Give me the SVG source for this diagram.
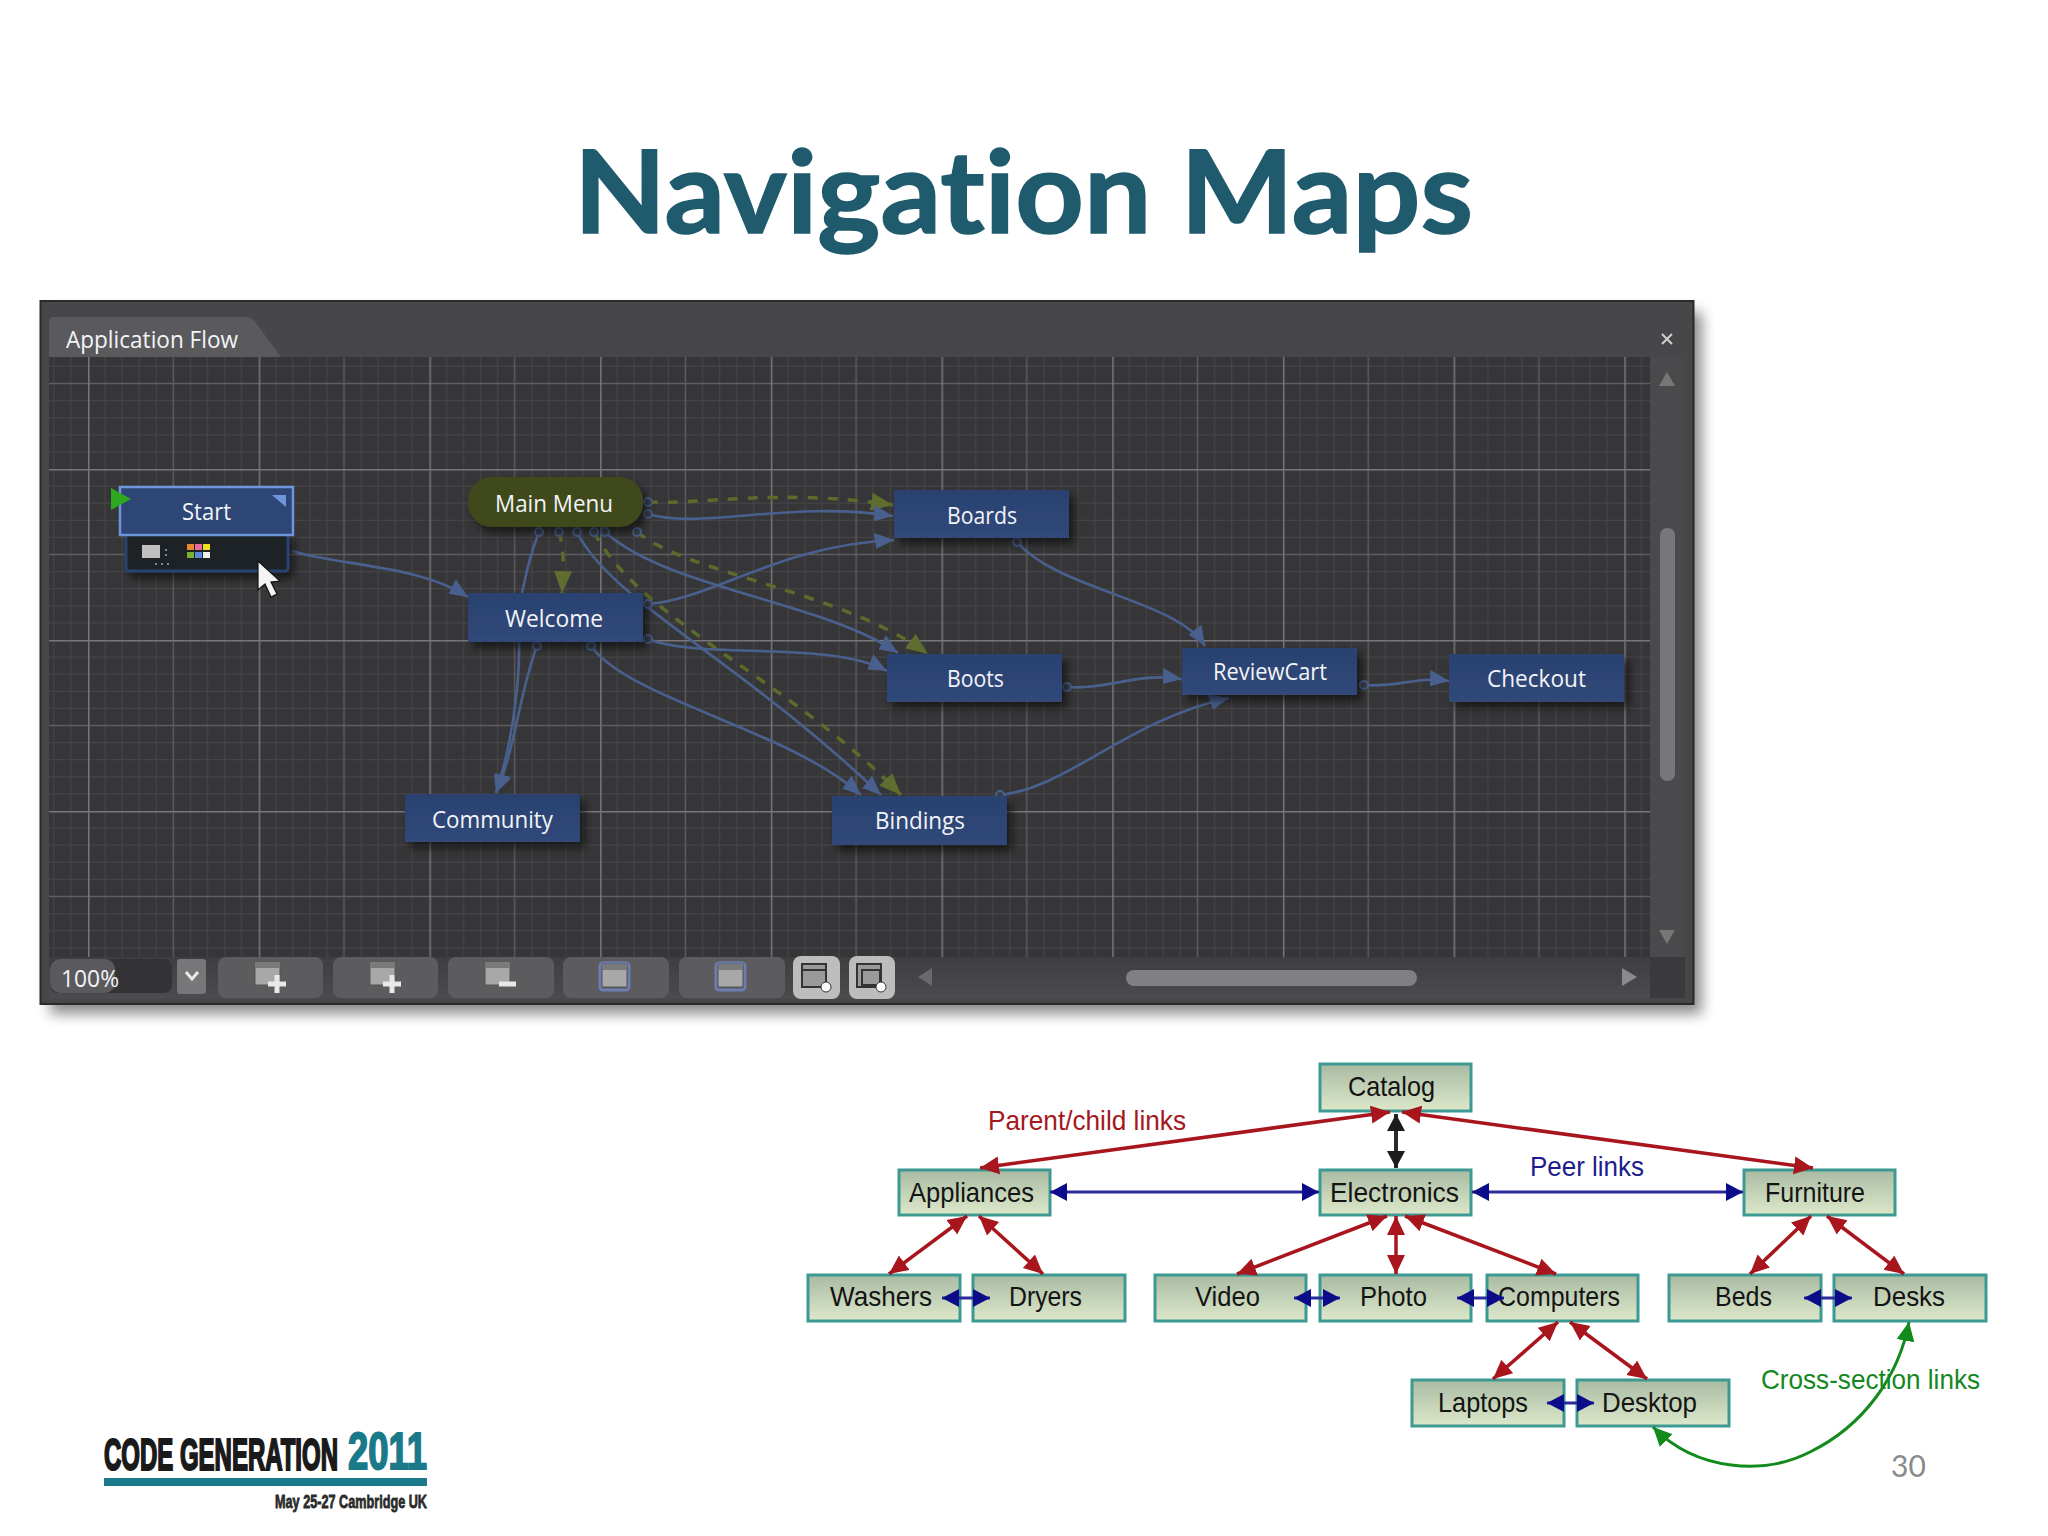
<svg xmlns="http://www.w3.org/2000/svg" width="2048" height="1536" viewBox="0 0 2048 1536">
<style>
.ui{font-family:"Open Sans","Noto Sans","Liberation Sans",sans-serif;fill:#f2f4f8;font-size:24px}
.nd{fill:url(#nav);filter:url(#ns)}
.ar{font-family:"Liberation Sans",Arial,sans-serif;font-size:28px;fill:#141414}
.cat{fill:url(#cg);stroke:#3c9a92;stroke-width:3}
.b{fill:none;stroke:#49618f;stroke-width:2.6;marker-end:url(#mb)}
.o{fill:none;stroke:#5c6a2c;stroke-width:3.5;stroke-dasharray:10 10;marker-end:url(#mo)}
.p{fill:#3a3f48;stroke:#49618f;stroke-width:2}
.r{stroke:#a8151d;stroke-width:3.5;fill:none;marker-start:url(#mr);marker-end:url(#mr)}
.k{stroke:#2a2a2a;stroke-width:4;fill:none;marker-start:url(#mk);marker-end:url(#mk)}
.u{stroke:#2a2a9c;stroke-width:3;fill:none;marker-start:url(#mu);marker-end:url(#mu)}
.btn{fill:#5c5c5e}
.btl{fill:#bdbdbd}
.logo{font-family:"Liberation Sans Narrow","Liberation Sans",sans-serif;font-weight:700}
</style>
<defs>
<linearGradient id="nav" x1="0" y1="0" x2="0" y2="1"><stop offset="0" stop-color="#2a4270"/><stop offset="1" stop-color="#30487a"/></linearGradient>
<linearGradient id="cg" x1="0" y1="0" x2="0" y2="1"><stop offset="0" stop-color="#a9bba3"/><stop offset="1" stop-color="#dde8ca"/></linearGradient>
<linearGradient id="tb" x1="0" y1="0" x2="0" y2="1"><stop offset="0" stop-color="#3e3e40"/><stop offset="1" stop-color="#4c4c4e"/></linearGradient>
<filter id="ns" x="-15%" y="-20%" width="135%" height="160%"><feDropShadow dx="5" dy="6" stdDeviation="4" flood-color="#000" flood-opacity=".55"/></filter>
<filter id="ws" x="-3%" y="-3%" width="106%" height="108%"><feGaussianBlur stdDeviation="7"/></filter>
<filter id="soft" x="-2%" y="-2%" width="104%" height="104%"><feGaussianBlur stdDeviation=".7"/></filter>
<pattern id="grid" patternUnits="userSpaceOnUse" x="88" y="298" width="170.7" height="171">
<rect width="170.7" height="171" fill="#363638"/>
<path d="M17.1 0V171M34.1 0V171M51.2 0V171M68.3 0V171M102.4 0V171M119.5 0V171M136.6 0V171M153.6 0V171M0 17.1H170.7M0 34.2H170.7M0 51.3H170.7M0 68.4H170.7M0 102.6H170.7M0 119.7H170.7M0 136.8H170.7M0 153.9H170.7" stroke="#444446" stroke-width="1.2" fill="none"/>
<path d="M85.3 0V171M0 85.5H170.7" stroke="#5e5e60" stroke-width="1.4" fill="none"/>
<path d="M0.7 0V171M0 .8H170.7" stroke="#77777a" stroke-width="1.6" fill="none"/>
</pattern>
<marker id="mb" markerUnits="userSpaceOnUse" markerWidth="22" markerHeight="18" refX="20" refY="9" orient="auto"><path d="M0 1L20 9L2 17Z" fill="#49618f"/></marker>
<marker id="mo" markerUnits="userSpaceOnUse" markerWidth="24" markerHeight="20" refX="22" refY="10" orient="auto"><path d="M0 1L22 10L0 19Z" fill="#5f6e2e"/></marker>
<marker id="mr" markerUnits="userSpaceOnUse" markerWidth="20" markerHeight="20" refX="19" refY="10" orient="auto-start-reverse"><path d="M0 1L19 10L0 19Z" fill="#a8151d"/></marker>
<marker id="mk" markerUnits="userSpaceOnUse" markerWidth="18" markerHeight="18" refX="17" refY="9" orient="auto-start-reverse"><path d="M0 0L17 9L0 18Z" fill="#1c1c1c"/></marker>
<marker id="mu" markerUnits="userSpaceOnUse" markerWidth="18" markerHeight="20" refX="17" refY="10" orient="auto-start-reverse"><path d="M0 1L17 10L0 19Z" fill="#0c0c8a"/></marker>
<marker id="mg" markerUnits="userSpaceOnUse" markerWidth="20" markerHeight="20" refX="19" refY="10" orient="auto-start-reverse"><path d="M0 1L19 10L0 19Z" fill="#128a1c"/></marker>
<g id="ic"><rect x="-12" y="-12" width="25" height="23" fill="#a8a8a8" stroke="#555" stroke-width="1"/><rect x="-12" y="-12" width="25" height="6" fill="#7a7a7a"/></g>
<g id="plus"><path d="M-9 0H9M0 -9V9" stroke="#e8e8e8" stroke-width="5"/></g>
</defs>
<rect width="2048" height="1536" fill="#fff"/>
<text x="574" y="233" font-family="Lato,'Open Sans',sans-serif" font-weight="700" font-size="114" fill="#1f5a6d" stroke="#1f5a6d" stroke-width="1.5" style="font-variant-ligatures:none" textLength="899" lengthAdjust="spacingAndGlyphs">Navigation Maps</text>

<g id="window">
<rect x="50" y="312" width="1652" height="702" fill="#000" opacity=".45" filter="url(#ws)"/>
<rect x="40.500" y="301" width="1653" height="703" fill="#47474a" stroke="#2a2a2a" stroke-width="2"/>
<path d="M49 357V322Q49 317 54 317H245Q252 317 256 323L281 357Z" fill="#5a5a5d"/>
<text class="ui" x="66" y="348" font-size="23" textLength="172" lengthAdjust="spacingAndGlyphs">Application Flow</text>
<path d="M1662 334L1672 344M1672 334L1662 344" stroke="#d0d0d0" stroke-width="2"/>
<rect x="49" y="357" width="1601" height="600" fill="url(#grid)"/>
<rect x="1650" y="357" width="34" height="600" fill="#4a4a4c"/>
<rect x="1660" y="528" width="15" height="253" rx="7" fill="#77777a"/>
<path d="M1667 372L1675 386H1659Z" fill="#777"/>
<path d="M1667 944L1659 930H1675Z" fill="#777"/>
<g transform="translate(0,-3)">
<rect x="49" y="960" width="1601" height="42" fill="url(#tb)"/>
<rect x="1650" y="960" width="35" height="41" fill="#3a3a3c"/>
<rect x="50" y="962" width="122" height="34" rx="8" fill="#333335"/>
<rect x="50" y="962" width="65" height="34" rx="10" fill="#5a5a5c"/>
<text class="ui" x="61" y="990" font-size="22" textLength="58" lengthAdjust="spacingAndGlyphs">100%</text>
<rect x="177" y="962" width="29" height="35" rx="3" fill="#77777a"/>
<path d="M186 975L192 982L198 975" fill="none" stroke="#e8e8e8" stroke-width="3"/>
<rect class="btn" x="218" y="960" width="105" height="41" rx="8"/>
<rect class="btn" x="333" y="960" width="105" height="41" rx="8"/>
<rect class="btn" x="448" y="960" width="106" height="41" rx="8"/>
<rect class="btn" x="563" y="960" width="106" height="41" rx="8"/>
<rect class="btn" x="679" y="960" width="106" height="41" rx="8"/>
<rect class="btl" x="793" y="959" width="47" height="43" rx="8"/>
<rect class="btl" x="849" y="959" width="46" height="43" rx="8"/>
<use href="#ic" x="267" y="977"/><use href="#plus" x="277" y="987"/>
<use href="#ic" x="382" y="977"/><use href="#plus" x="392" y="987"/>
<use href="#ic" x="497" y="977"/><path d="M499 987H516" stroke="#e8e8e8" stroke-width="5"/>
<rect x="600" y="966" width="29" height="27" rx="3" fill="none" stroke="#6c7cb4" stroke-width="3"/><use href="#ic" x="614" y="979"/>
<rect x="716" y="966" width="29" height="27" rx="3" fill="none" stroke="#6c7cb4" stroke-width="3"/><use href="#ic" x="730" y="979"/>
<rect x="802" y="967" width="24" height="23" fill="#9a9a9a" stroke="#333" stroke-width="2"/><path d="M802 973H826" stroke="#333" stroke-width="2"/><circle cx="826" cy="990" r="5" fill="#fff" stroke="#333"/>
<rect x="857" y="967" width="24" height="23" fill="#9a9a9a" stroke="#333" stroke-width="2"/><rect x="862" y="973" width="18" height="15" fill="#9a9a9a" stroke="#333" stroke-width="2"/><circle cx="881" cy="990" r="5" fill="#fff" stroke="#333"/>
<path d="M932 971L918 980L932 989Z" fill="#6a6a6c"/>
<rect x="1126" y="973" width="291" height="16" rx="8" fill="#808083"/>
<path d="M1622 971L1637 980L1622 989Z" fill="#8a8a8c"/>
</g>
</g>

<g id="connectors" filter="url(#soft)">
<path class="o" d="M648 502C700 505 780 488 893 505"/>
<path class="o" d="M637 532C690 575 840 590 928 654"/>
<path class="o" d="M559 532C565 550 563 570 562 593"/>
<path class="o" d="M594 532C640 620 790 680 901 795"/>
<path class="b" d="M292 551C340 566 420 565 468 597"/>
<path class="b" d="M648 514C700 530 790 500 893 516"/>
<path class="b" d="M648 604C710 600 780 545 894 540"/>
<path class="b" d="M605 532C670 590 820 600 898 653"/>
<path class="b" d="M648 639C700 660 830 640 887 671"/>
<path class="b" d="M577 532C610 600 740 660 881 795"/>
<path class="b" d="M591 646C630 700 790 730 861 795"/>
<path class="b" style="marker-end:none" d="M539 532C528 560 525 580 522 593"/>
<path class="b" d="M519 642C520 690 510 750 496 793"/>
<path class="b" d="M537 646C520 690 515 750 496 793"/>
<path class="b" d="M1017 542C1058 590 1177 600 1205 646"/>
<path class="b" d="M1067 687C1108 690 1138 672 1182 679"/>
<path class="b" d="M1364 685C1396 688 1416 676 1449 681"/>
<path class="b" d="M1000 795C1068 788 1127 720 1229 698"/>
<circle class="p" cx="648" cy="502" r="4"/><circle class="p" cx="648" cy="514" r="4"/><circle class="p" cx="539" cy="532" r="4"/><circle class="p" cx="559" cy="532" r="4"/><circle class="p" cx="577" cy="532" r="4"/><circle class="p" cx="594" cy="532" r="4"/><circle class="p" cx="605" cy="532" r="4"/><circle class="p" cx="637" cy="532" r="4"/><circle class="p" cx="648" cy="604" r="4"/><circle class="p" cx="648" cy="639" r="4"/><circle class="p" cx="537" cy="646" r="4"/><circle class="p" cx="591" cy="646" r="4"/><circle class="p" cx="1017" cy="542" r="4"/><circle class="p" cx="1067" cy="687" r="4"/><circle class="p" cx="1364" cy="685" r="4"/><circle class="p" cx="1000" cy="795" r="4"/>
</g>

<g id="node-start">
<rect x="126" y="533" width="162" height="38" rx="3" fill="#1d2128" stroke="#2c4270" stroke-width="3" filter="url(#ns)"/>
<rect x="142" y="545" width="18" height="13" fill="#c0c0c0"/>
<path d="M165 550h2M165 555h2M155 564h2M161 564h2M167 564h2" stroke="#aaa" stroke-width="1.5"/>
<rect x="187" y="544" width="7" height="6" fill="#e88a2c"/><rect x="195" y="544" width="7" height="6" fill="#e86aa0"/><rect x="203" y="544" width="7" height="6" fill="#f0e020"/>
<rect x="187" y="552" width="7" height="6" fill="#7ab030"/><rect x="195" y="552" width="7" height="6" fill="#5a88d8"/><rect x="203" y="552" width="7" height="6" fill="#f0f0f0"/>
<rect x="120" y="487" width="173" height="48" fill="#2d4676" stroke="#6f96dc" stroke-width="2.5"/>
<path d="M272 495H286V507Z" fill="#6f96dc"/>
<path d="M111 488L131 499L111 510Z" fill="#2ea81e"/>
<text class="ui" x="182" y="520" textLength="49" lengthAdjust="spacingAndGlyphs">Start</text>
</g>
<g id="node-mainmenu"><rect x="468" y="477" width="175" height="50" rx="24" fill="#3f4a1c" filter="url(#ns)"/><text class="ui" x="495" y="512" textLength="118" lengthAdjust="spacingAndGlyphs">Main Menu</text></g>
<g id="node-welcome"><rect class="nd" x="468" y="593" width="175" height="49"/><text class="ui" x="505" y="627" textLength="98" lengthAdjust="spacingAndGlyphs">Welcome</text></g>
<g id="node-community"><rect class="nd" x="405" y="794" width="175" height="48"/><text class="ui" x="432" y="828" textLength="121" lengthAdjust="spacingAndGlyphs">Community</text></g>
<g id="node-bindings"><rect class="nd" x="832" y="796" width="175" height="49"/><text class="ui" x="875" y="829" textLength="90" lengthAdjust="spacingAndGlyphs">Bindings</text></g>
<g id="node-boards"><rect class="nd" x="894" y="490" width="175" height="48"/><text class="ui" x="947" y="524" textLength="70" lengthAdjust="spacingAndGlyphs">Boards</text></g>
<g id="node-boots"><rect class="nd" x="887" y="654" width="175" height="48"/><text class="ui" x="947" y="687" textLength="57" lengthAdjust="spacingAndGlyphs">Boots</text></g>
<g id="node-reviewcart"><rect class="nd" x="1182" y="648" width="175" height="47"/><text class="ui" x="1213" y="680" textLength="114" lengthAdjust="spacingAndGlyphs">ReviewCart</text></g>
<g id="node-checkout"><rect class="nd" x="1449" y="654" width="175" height="48"/><text class="ui" x="1487" y="687" textLength="99" lengthAdjust="spacingAndGlyphs">Checkout</text></g>
<path id="cursor" d="M258 561V590L265 584L271 597L277 594L271 582L280 581Z" fill="#f4f4f4" stroke="#111" stroke-width="1.2"/>

<g id="cat-catalog"><rect class="cat" x="1320" y="1064" width="151" height="47"/><text class="ar" x="1348" y="1096" textLength="87" lengthAdjust="spacingAndGlyphs">Catalog</text></g>
<g id="cat-appliances"><rect class="cat" x="899" y="1170" width="151" height="45"/><text class="ar" x="909" y="1202" textLength="125" lengthAdjust="spacingAndGlyphs">Appliances</text></g>
<g id="cat-electronics"><rect class="cat" x="1320" y="1170" width="151" height="45"/><text class="ar" x="1330" y="1202" textLength="129" lengthAdjust="spacingAndGlyphs">Electronics</text></g>
<g id="cat-furniture"><rect class="cat" x="1744" y="1170" width="151" height="45"/><text class="ar" x="1765" y="1202" textLength="100" lengthAdjust="spacingAndGlyphs">Furniture</text></g>
<g id="cat-washers"><rect class="cat" x="808" y="1275" width="152" height="46"/><text class="ar" x="830" y="1306" textLength="102" lengthAdjust="spacingAndGlyphs">Washers</text></g>
<g id="cat-dryers"><rect class="cat" x="973" y="1275" width="152" height="46"/><text class="ar" x="1009" y="1306" textLength="73" lengthAdjust="spacingAndGlyphs">Dryers</text></g>
<g id="cat-video"><rect class="cat" x="1155" y="1275" width="151" height="46"/><text class="ar" x="1195" y="1306" textLength="65" lengthAdjust="spacingAndGlyphs">Video</text></g>
<g id="cat-photo"><rect class="cat" x="1320" y="1275" width="151" height="46"/><text class="ar" x="1360" y="1306" textLength="67" lengthAdjust="spacingAndGlyphs">Photo</text></g>
<g id="cat-computers"><rect class="cat" x="1487" y="1275" width="151" height="46"/><text class="ar" x="1498" y="1306" textLength="122" lengthAdjust="spacingAndGlyphs">Computers</text></g>
<g id="cat-beds"><rect class="cat" x="1669" y="1275" width="152" height="46"/><text class="ar" x="1715" y="1306" textLength="57" lengthAdjust="spacingAndGlyphs">Beds</text></g>
<g id="cat-desks"><rect class="cat" x="1834" y="1275" width="152" height="46"/><text class="ar" x="1873" y="1306" textLength="72" lengthAdjust="spacingAndGlyphs">Desks</text></g>
<g id="cat-laptops"><rect class="cat" x="1412" y="1380" width="152" height="46"/><text class="ar" x="1438" y="1412" textLength="90" lengthAdjust="spacingAndGlyphs">Laptops</text></g>
<g id="cat-desktop"><rect class="cat" x="1577" y="1380" width="152" height="46"/><text class="ar" x="1602" y="1412" textLength="95" lengthAdjust="spacingAndGlyphs">Desktop</text></g>

<g id="catalog-connectors">
<path class="r" d="M1390 1112L980 1168"/>
<path class="r" d="M1402 1112L1813 1168"/>
<path class="k" d="M1396 1114V1168"/>
<path class="r" d="M967 1216L889 1274"/>
<path class="r" d="M979 1216L1043 1274"/>
<path class="r" d="M1387 1216L1237 1274"/>
<path class="r" d="M1396 1216V1274"/>
<path class="r" d="M1405 1216L1556 1274"/>
<path class="r" d="M1811 1216L1750 1274"/>
<path class="r" d="M1827 1216L1904 1274"/>
<path class="r" d="M1558 1322L1493 1379"/>
<path class="r" d="M1570 1322L1647 1379"/>
<path class="u" d="M1050 1192H1319"/>
<path class="u" d="M1472 1192H1743"/>
<path class="u" d="M942 1298H990"/>
<path class="u" d="M1294 1298H1340"/>
<path class="u" d="M1457 1298H1504"/>
<path class="u" d="M1804 1298H1852"/>
<path class="u" d="M1547 1403H1594"/>
<path d="M1653 1427C1697 1472 1765 1475 1810 1452C1865 1425 1899 1375 1909 1322" fill="none" stroke="#128a1c" stroke-width="3" marker-start="url(#mg)" marker-end="url(#mg)"/>
</g>
<text class="ar" x="988" y="1130" style="fill:#a51822" textLength="198" lengthAdjust="spacingAndGlyphs">Parent/child links</text>
<text class="ar" x="1530" y="1176" style="fill:#1c1c8c" textLength="114" lengthAdjust="spacingAndGlyphs">Peer links</text>
<text class="ar" x="1761" y="1389" style="fill:#14881e" textLength="219" lengthAdjust="spacingAndGlyphs">Cross-section links</text>
<text x="1891" y="1477" font-family="Lato,'Open Sans',sans-serif" font-size="30" fill="#8a8a8a">30</text>

<g id="logo">
<text class="logo" x="104" y="1470" font-size="44" fill="#1a1a1a" stroke="#1a1a1a" stroke-width="2.2" textLength="234" lengthAdjust="spacingAndGlyphs">CODE GENERATION</text>
<text class="logo" x="348" y="1469" font-size="52" fill="#1b7a8a" stroke="#1b7a8a" stroke-width="2" textLength="79" lengthAdjust="spacingAndGlyphs">2011</text>
<rect x="104" y="1478" width="323" height="8" fill="#1b7a8a"/>
<text class="logo" x="275" y="1508" font-size="19" fill="#2a2a2a" stroke="#2a2a2a" stroke-width=".8" textLength="152" lengthAdjust="spacingAndGlyphs">May 25-27 Cambridge UK</text>
</g>
</svg>
